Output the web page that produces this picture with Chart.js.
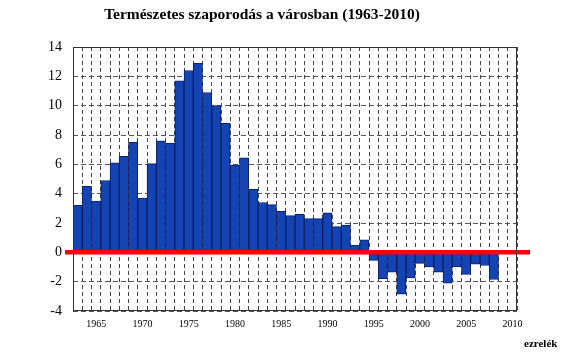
<!DOCTYPE html>
<html>
<head>
<meta charset="utf-8">
<script src="https://cdn.jsdelivr.net/npm/chart.js@4/dist/chart.umd.min.js"></script>
<style>
  html, body { margin: 0; padding: 0; background: #fff; }
  #wrap { position: relative; width: 575px; height: 355px; }
  #c { position: absolute; left: 0; top: 0; }
  #title { position: absolute; left: 0; width: 524px; top: 5px; text-align: center;
           font: bold 15.5px "Liberation Serif", "Times New Roman", serif; color: #000; }
  #unit { position: absolute; left: 524px; top: 337px;
          font: bold 11px "Liberation Serif", "Times New Roman", serif; color: #000; }
</style>
</head>
<body>
<div id="wrap">
  <canvas id="c" width="575" height="355"></canvas>
  <div id="title">Természetes szaporodás a városban (1963-2010)</div>
  <div id="unit">ezrelék</div>
</div>
<script>
const years = [];
for (let y = 1963; y <= 2010; y++) years.push(String(y));

const values = [
  3.2, 4.5, 3.5, 4.9, 6.1, 6.55, 7.5,          // 1963-1969
  3.7, 6.05, 7.6, 7.45, 11.7, 12.4, 12.9, 10.9, 10.0, 8.8,   // 1970-1979
  5.95, 6.45, 4.3, 3.4, 3.25, 2.8, 2.5, 2.6, 2.3, 2.3,        // 1980-1989
  2.7, 1.75, 1.85, 0.5, 0.85, -0.55, -1.8, -1.35, -2.85, -1.75, // 1990-1999
  -0.75, -1.0, -1.35, -2.1, -1.0, -1.5, -0.8, -0.9, -1.85,    // 2000-2008
  null, null                                                  // 2009-2010
];

const yMin = -4, yMax = 14, yStep = 2;
const labelEvery = 5;

const framePlugin = {
  id: 'frame',
  afterDatasetsDraw(chart) {
    const {ctx, chartArea: a, scales} = chart;
    ctx.save();
    const y0 = scales.y.getPixelForValue(0);
    ctx.strokeStyle = '#ff0000';
    ctx.lineWidth = 4.5;
    ctx.beginPath();
    ctx.moveTo(a.left - 8, y0);
    ctx.lineTo(a.right + 13, y0);
    ctx.stroke();
    ctx.strokeStyle = '#333';
    ctx.lineWidth = 1;
    ctx.strokeRect(Math.round(a.left) + 0.5, Math.round(a.top) + 0.5,
                   Math.round(a.right - a.left) - 1, Math.round(a.bottom - a.top) - 1);
    ctx.restore();
  }
};

new Chart(document.getElementById('c'), {
  type: 'bar',
  data: {
    labels: years,
    datasets: [{
      data: values,
      backgroundColor: '#1443b4',
      borderColor: '#0b1f66',
      borderWidth: 1,
      borderSkipped: false,
      barPercentage: 1,
      categoryPercentage: 1
    }]
  },
  options: {
    responsive: false,
    animation: false,
    devicePixelRatio: 1,
    layout: { padding: { top: 47, right: 58, left: 0, bottom: 0 } },
    plugins: { legend: { display: false }, tooltip: { enabled: false }, title: { display: false } },
    scales: {
      x: {
        afterFit(s) { s.height = 44; },
        grid: { display: true, offset: true, drawTicks: false, color: '#444', lineWidth: 1 },
        border: { display: false, dash: [4, 3] },
        ticks: {
          autoSkip: false, maxRotation: 0, minRotation: 0, padding: 7,
          color: '#000',
          font: { family: '"Liberation Serif", "Times New Roman", serif', size: 10 },
          callback(v, i) { const yr = Number(years[i]); return yr % labelEvery === 0 ? years[i] : ''; }
        }
      },
      y: {
        min: yMin, max: yMax,
        afterFit(s) { s.width = 73; },
        grid: { display: true, drawTicks: false, color: '#555', lineWidth: 1 },
        border: { display: false, dash: [5, 3] },
        ticks: {
          stepSize: yStep, padding: 11, color: '#000',
          font: { family: '"Liberation Serif", "Times New Roman", serif', size: 14 }
        }
      }
    }
  },
  plugins: [framePlugin]
});
</script>
</body>
</html>
